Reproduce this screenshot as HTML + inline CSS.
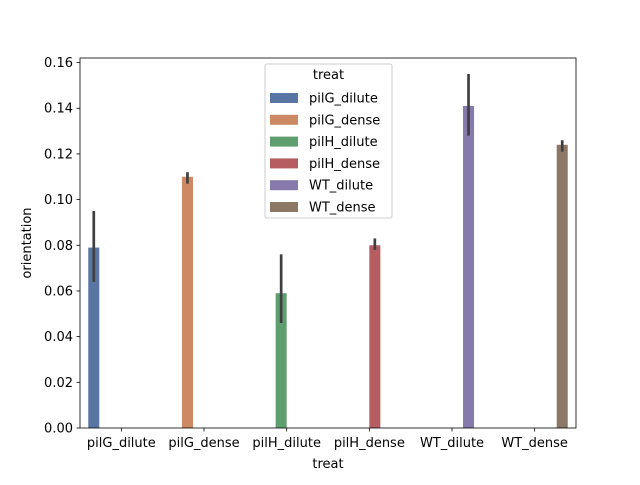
<!DOCTYPE html>
<html><head><meta charset="utf-8"><style>
body{margin:0;background:#fff}
svg text{font-family:"DejaVu Sans","Liberation Sans",sans-serif;font-size:13px;fill:#000}
</style></head><body>
<svg id="chart" width="640" height="480" xmlns="http://www.w3.org/2000/svg">
<rect width="640" height="480" fill="#fff"/>
<g id="bars"></g>
<g id="axes"></g>
<g id="legend"></g>
</svg>
<script>
const categories=["pilG_dilute","pilG_dense","pilH_dilute","pilH_dense","WT_dilute","WT_dense"];
const values=[0.079,0.110,0.059,0.080,0.141,0.124];
const errLow=[0.064,0.107,0.046,0.078,0.128,0.121];
const errHigh=[0.095,0.112,0.076,0.083,0.155,0.126];
const yTicks=[0,0.02,0.04,0.06,0.08,0.10,0.12,0.14,0.16];
const colors=["#5975a4","#cc8963","#5f9e6e","#b55d60","#857aab","#8d7866"];
const NS="http://www.w3.org/2000/svg";
const L=80,R=576,T=58,B=428,yMax=0.162;
const y=v=>B-(v/yMax)*(B-T);
const bw=(R-L)/categories.length;
const xc=i=>L+bw*(i+0.5);
function mk(tag,attrs,parent){const e=document.createElementNS(NS,tag);for(const k in attrs)e.setAttribute(k,attrs[k]);parent.appendChild(e);return e;}
const gb=document.getElementById('bars'),ga=document.getElementById('axes'),gl=document.getElementById('legend');
const n=categories.length,w=bw*0.8/n;
categories.forEach((c,i)=>{
  const x0=xc(i)-bw*0.4+i*w;
  const r=mk('rect',{x:x0,y:y(values[i]),width:w,height:B-y(values[i]),fill:colors[i]},gb);
  
  
  const l=mk('line',{x1:x0+w/2,x2:x0+w/2,y1:y(errLow[i]),y2:y(errHigh[i]),stroke:'#3f3f3f','stroke-width':2.7},gb);
  
  
  mk('line',{x1:xc(i),x2:xc(i),y1:B,y2:B+3.5,stroke:'#000','stroke-width':0.8},ga);
  const t=mk('text',{x:xc(i),y:B+19,'text-anchor':'middle'},ga);t.textContent=c;
  
  
});
yTicks.forEach(v=>{
  mk('line',{x1:L-3.5,x2:L,y1:y(v),y2:y(v),stroke:'#000','stroke-width':0.8},ga);
  const t=mk('text',{x:L-7,y:y(v)+4.5,'text-anchor':'end'},ga);t.textContent=v.toFixed(2);
  
  
});
const fr=mk('rect',{x:L,y:T,width:R-L,height:B-T,fill:'none',stroke:'#000','stroke-width':0.8},ga);


const xt=mk('text',{x:(L+R)/2,y:468,'text-anchor':'middle'},ga);xt.textContent='treat';


const yt=mk('text',{x:0,y:0,'text-anchor':'middle',transform:`translate(31,${(T+B)/2}) rotate(-90)`},ga);yt.textContent='orientation';


const lb=mk('rect',{x:265,y:64,width:127,height:154,rx:2,fill:'#fff','fill-opacity':0.8,stroke:'#ccc','stroke-width':1},gl);


const lt=mk('text',{x:328.5,y:79,'text-anchor':'middle'},gl);lt.textContent='treat';


categories.forEach((c,i)=>{
  const yy=97+i*21.8;
  const g=mk('g',{},gl);
  
  
  mk('rect',{x:270,y:yy-4,width:28,height:10,fill:colors[i]},g);
  const t=mk('text',{x:309,y:yy+5.5},g);t.textContent=c;
});
</script>
</body></html>
